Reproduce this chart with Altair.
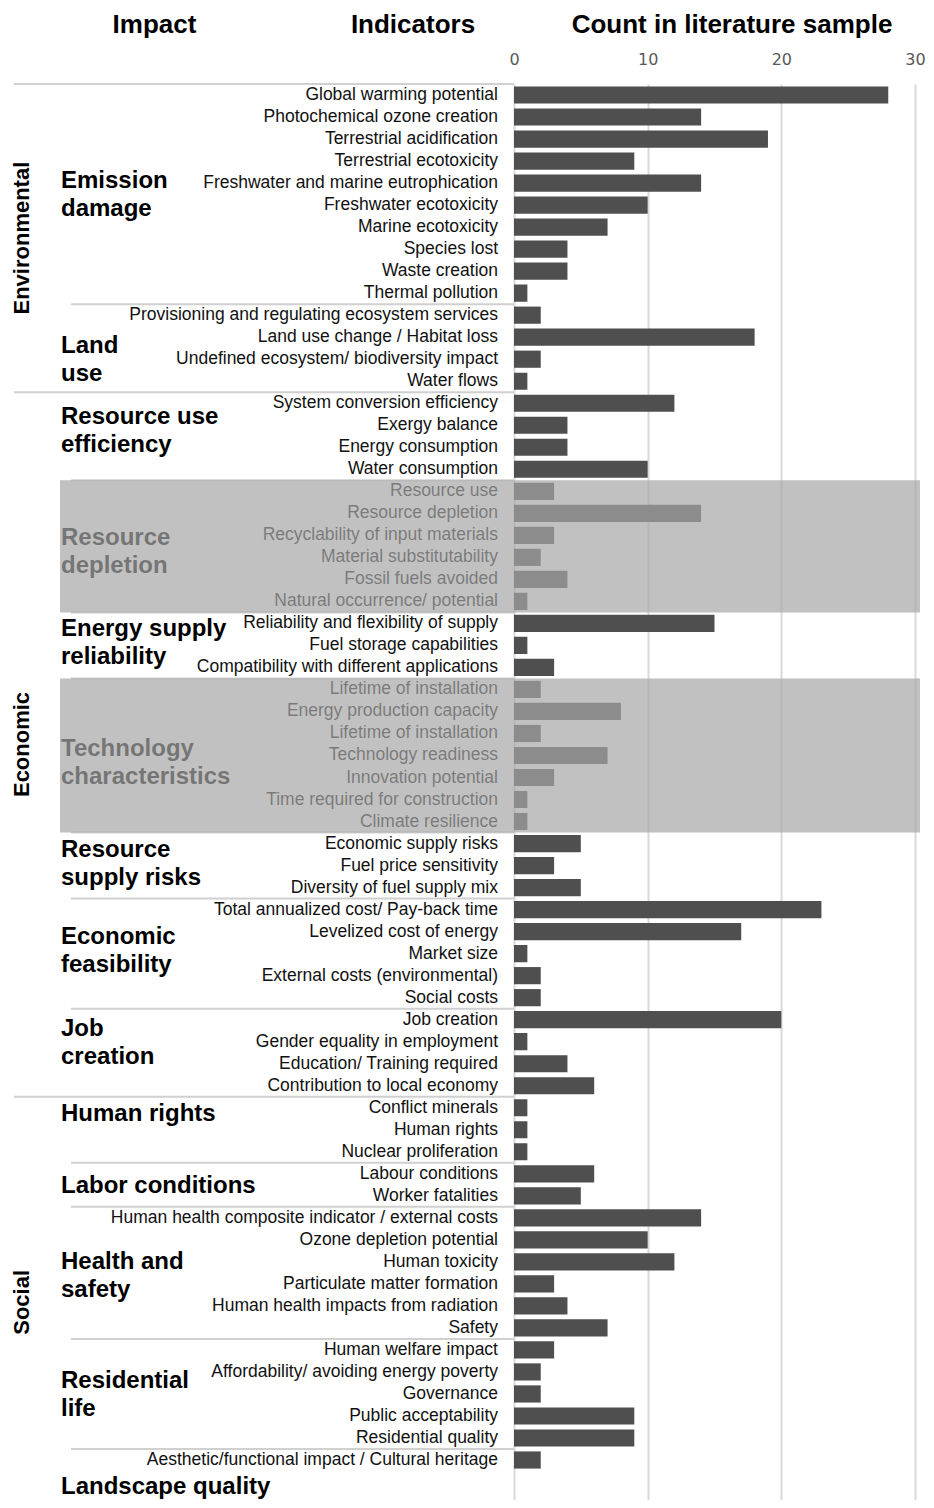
import altair as alt
import pandas as pd

# ---------------- data ----------------
indicators = [
    "Global warming potential", "Photochemical ozone creation", "Terrestrial acidification",
    "Terrestrial ecotoxicity", "Freshwater and marine eutrophication", "Freshwater ecotoxicity",
    "Marine ecotoxicity", "Species lost", "Waste creation", "Thermal pollution",
    "Provisioning and regulating ecosystem services", "Land use change / Habitat loss",
    "Undefined ecosystem/ biodiversity impact", "Water flows",
    "System conversion efficiency", "Exergy balance", "Energy consumption", "Water consumption",
    "Resource use", "Resource depletion", "Recyclability of input materials",
    "Material substitutability", "Fossil fuels avoided", "Natural occurrence/ potential",
    "Reliability and flexibility of supply", "Fuel storage capabilities",
    "Compatibility with different applications",
    "Lifetime of installation", "Energy production capacity", "Lifetime of installation",
    "Technology readiness", "Innovation potential", "Time required for construction",
    "Climate resilience",
    "Economic supply risks", "Fuel price sensitivity", "Diversity of fuel supply mix",
    "Total annualized cost/ Pay-back time", "Levelized cost of energy", "Market size",
    "External costs (environmental)", "Social costs",
    "Job creation", "Gender equality in employment", "Education/ Training required",
    "Contribution to local economy",
    "Conflict minerals", "Human rights", "Nuclear proliferation",
    "Labour conditions", "Worker fatalities",
    "Human health composite indicator / external costs", "Ozone depletion potential",
    "Human toxicity", "Particulate matter formation", "Human health impacts from radiation",
    "Safety",
    "Human welfare impact", "Affordability/ avoiding energy poverty", "Governance",
    "Public acceptability", "Residential quality",
    "Aesthetic/functional impact / Cultural heritage",
]
counts = [
    28, 14, 19, 9, 14, 10, 7, 4, 4, 1,
    2, 18, 2, 1,
    12, 4, 4, 10,
    3, 14, 3, 2, 4, 1,
    15, 1, 3,
    2, 8, 2, 7, 3, 1, 1,
    5, 3, 5,
    23, 17, 1, 2, 2,
    20, 1, 4, 6,
    1, 1, 1,
    6, 5,
    14, 10, 12, 3, 4, 7,
    3, 2, 2, 9, 9,
    2,
]
groups = [
    "Emission\ndamage", "Land\nuse", "Resource use\nefficiency", "Resource\ndepletion",
    "Energy supply\nreliability", "Technology\ncharacteristics", "Resource\nsupply risks",
    "Economic\nfeasibility", "Job\ncreation", "Human rights", "Labor conditions",
    "Health and\nsafety", "Residential\nlife", "Landscape quality",
]
group_sizes = [10, 4, 4, 6, 3, 7, 3, 5, 4, 3, 2, 6, 5, 1]
group_shaded = [False, False, False, True, False, True, False,
                False, False, False, False, False, False, False]
sections = ["Environmental", "Economic", "Social"]
section_group_counts = [2, 7, 5]
headers = ["Impact", "Indicators", "Count in literature sample"]
tick_values = [0, 10, 20, 30]

# ---------------- layout ----------------
PLOT_LEFT_PX, PLOT_TOP_PX = 8, 84          # page position of plot area
ZERO_PX, THIRTY_PX = 514, 915              # page x of count 0 and 30
ROW_PX = 22.016                            # height of one indicator row
W, H = THIRTY_PX - PLOT_LEFT_PX, 1416
PXU = (THIRTY_PX - ZERO_PX) / 30.0
X_MIN = -(ZERO_PX - PLOT_LEFT_PX) / PXU
X_MAX = 30
Y_MAX = H / ROW_PX
SECTION_END = 64.68                        # nominal end row of the last section
GROUP_LINE_H = 28                          # line height of group labels (px)


def xu(px):
    return X_MIN + (px - PLOT_LEFT_PX) / PXU


def yu(py):
    return (py - PLOT_TOP_PX) / ROW_PX


BAR_PAD = 0.11
SECTION_X = xu(22)
SECTION_LINE_X = xu(14)
GROUP_LINE_X = xu(71)
GROUP_X = xu(61)
BOX_X0, BOX_X1 = xu(60), xu(920)
HEADER_Y = yu(25)
HEADER_X = [xu(154.5), xu(413), xu(732)]
GROUP_LABEL_SHIFT = [0.04, 0.54, -0.24, 0.26, -0.09, 0.36, -0.05,
                     -0.10, -0.42, -0.72, 0.05, 0.14, 0.05, 1.23]
FONT = "Liberation Sans"

# ---------------- tables ----------------
n = len(indicators)
bars = pd.DataFrame({"row": list(range(n)), "indicator": indicators, "count": counts})
bars["base"] = 0
bars["y0"] = bars["row"] + BAR_PAD
bars["y1"] = bars["row"] + 1 - BAR_PAD
bars["yc"] = bars["row"] + 0.5

starts = []
s = 0
for g in group_sizes:
    starts.append(s)
    s += g
ends = [st + g for st, g in zip(starts, group_sizes)]

grp = pd.DataFrame({"group": groups, "start": starts, "end": ends,
                    "shaded": group_shaded, "shift": GROUP_LABEL_SHIFT})
grp["lines"] = grp["group"].str.count("\n") + 1
# Vega anchors the first line of a multi-line text; move the block so it is centred
grp["yc"] = ((grp["start"] + grp["end"]) / 2 + grp["shift"]
             - (grp["lines"] - 1) * GROUP_LINE_H / 2 / ROW_PX)
grp["x"] = GROUP_X

sec_start_rows = []
gi = 0
for c in section_group_counts:
    sec_start_rows.append(starts[gi])
    gi += c
sec_end_rows = sec_start_rows[1:] + [SECTION_END]
sec = pd.DataFrame({"section": sections, "start": sec_start_rows, "end": sec_end_rows})
sec["yc"] = (sec["start"] + sec["end"]) / 2
sec["x"] = SECTION_X

lines = pd.DataFrame([
    {"y": st, "x0": SECTION_LINE_X if st in sec_start_rows else GROUP_LINE_X, "x1": 0}
    for st in starts
])

boxes = grp[grp["shaded"]].copy()
boxes["x0"] = BOX_X0
boxes["x1"] = BOX_X1

hdr = pd.DataFrame({"label": headers, "x": HEADER_X, "y": [HEADER_Y] * 3})

# ---------------- encodings ----------------
xs = alt.Scale(domain=[X_MIN, X_MAX], nice=False, zero=False)
ys = alt.Scale(domain=[0, Y_MAX], nice=False, zero=False, reverse=True)
xaxis = alt.Axis(orient="top", values=tick_values, grid=True, gridColor="#d9d9d9",
                 gridWidth=2, domain=False, ticks=False, labelFontSize=16,
                 labelFont="DejaVu Sans", labelColor="#595959", labelPadding=17,
                 labelFlush=False, title=None)


def X(field):
    return alt.X(f"{field}:Q", scale=xs, axis=xaxis)


def Y(field):
    return alt.Y(f"{field}:Q", scale=ys, axis=None)


bar_layer = alt.Chart(bars).mark_rect(color="#4f4f4f").encode(
    x=X("base"), x2="count:Q", y=Y("y0"), y2="y1:Q"
)
ind_text = alt.Chart(bars).mark_text(
    align="right", baseline="middle", dx=-16, fontSize=17.5, font=FONT, color="#111111"
).encode(x=X("base"), y=Y("yc"), text="indicator:N")

sep = alt.Chart(lines).mark_rule(color="#d0d0d0", strokeWidth=2).encode(
    x=X("x0"), x2="x1:Q", y=Y("y")
)

grp_text = alt.Chart(grp).mark_text(
    align="left", baseline="middle", fontSize=24, fontWeight="bold", font=FONT,
    lineBreak="\n", lineHeight=GROUP_LINE_H, color="#000000"
).encode(x=X("x"), y=Y("yc"), text="group:N")

sec_text = alt.Chart(sec).mark_text(
    align="center", baseline="middle", angle=270, fontSize=22, fontWeight="bold",
    font=FONT, color="#000000"
).encode(x=X("x"), y=Y("yc"), text="section:N")

hdr_text = alt.Chart(hdr).mark_text(
    align="center", baseline="middle", fontSize=26, fontWeight="bold", font=FONT,
    color="#000000"
).encode(x=X("x"), y=Y("y"), text="label:N")

box_layer = alt.Chart(boxes).mark_rect(color="#a6a6a6", opacity=0.7).encode(
    x=X("x0"), x2="x1:Q", y=Y("start"), y2="end:Q"
)

chart = alt.layer(
    bar_layer, sep, ind_text, grp_text, sec_text, hdr_text, box_layer
).properties(
    width=W, height=H,
    autosize=alt.AutoSizeParams(type="none"),
    padding={"left": 0, "top": 76, "right": 11, "bottom": 0},
).configure_view(stroke=None)

chart.save("out.html", embed_options={"renderer": "svg", "actions": False})
